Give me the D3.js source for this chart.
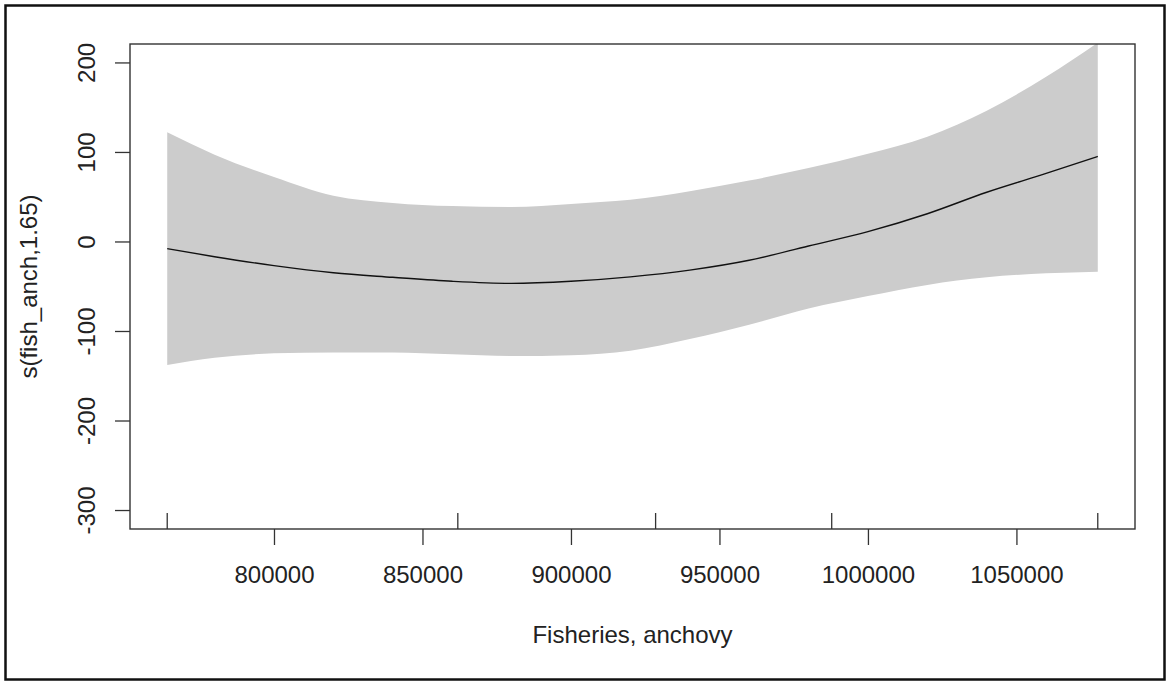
<!DOCTYPE html>
<meta charset="utf-8">
<style>
body { margin: 0; background: #fff; }
text { font-family: "Liberation Sans", Arial, sans-serif; fill: #222; }
</style>
<svg width="1166" height="681"></svg>
<script src="https://cdnjs.cloudflare.com/ajax/libs/d3/7.8.5/d3.min.js"></script>
<script>

// smooth term
var xGrid = [764050, 780000, 800000, 820000, 840000, 860000, 880000, 900000, 920000,
             940000, 960000, 980000, 1000000, 1020000, 1040000, 1060000, 1077390];
var fitValues   = [-8, -17, -27, -35, -40, -44.5, -46.8, -44.5, -39.5,
                   -32, -21, -5, 11, 31, 55, 76, 95];
var upperValues = [122, 97, 72, 51, 43, 39.5, 38.5, 42, 46.5,
                   56, 68, 82, 98, 117, 146, 184, 222];
var lowerValues = [-138, -130, -125, -124, -124, -126, -128, -127, -122,
                   -109, -93, -75, -61, -48.5, -40, -35.5, -33.7];
var rugValues = [764050, 861900, 928500, 987800, 1077390];
var xTicks = [800000, 850000, 900000, 950000, 1000000, 1050000];
var yTicks = [-300, -200, -100, 0, 100, 200];
var xLabel = "Fisheries, anchovy";
var yLabel = "s(fish_anch,1.65)";

var svg = d3.select("svg");
var plotL = 130, plotR = 1135, plotT = 44, plotB = 529;

var x = d3.scaleLinear().domain([751516, 1089926]).range([plotL, plotR]);
var y = d3.scaleLinear().domain([-321.2, 220.6]).range([plotB, plotT]);

var rows = xGrid.map(function(v, i) {
  return {x: v, fit: fitValues[i], lo: lowerValues[i], hi: upperValues[i]};
});

// outer frame
svg.append("rect")
    .attr("x", 5.5).attr("y", 5.5)
    .attr("width", 1159).attr("height", 674)
    .attr("fill", "none")
    .attr("stroke", "#111")
    .attr("stroke-width", 2.5);

svg.append("clipPath").attr("id", "plotclip")
  .append("rect")
    .attr("x", plotL).attr("y", plotT)
    .attr("width", plotR - plotL).attr("height", plotB - plotT);

var plot = svg.append("g").attr("clip-path", "url(#plotclip)");

plot.append("path")
    .datum(rows)
    .attr("fill", "#cccccc")
    .attr("d", d3.area()
      .curve(d3.curveMonotoneX)
      .x(function(d) { return x(d.x); })
      .y0(function(d) { return y(d.lo); })
      .y1(function(d) { return y(d.hi); }));

plot.append("path")
    .datum(rows)
    .attr("fill", "none")
    .attr("stroke", "#111")
    .attr("stroke-width", 1.4)
    .attr("d", d3.line()
      .curve(d3.curveMonotoneX)
      .x(function(d) { return x(d.x); })
      .y(function(d) { return y(d.fit); }));

// rug
svg.append("g").selectAll("line")
  .data(rugValues)
  .enter().append("line")
    .attr("x1", function(d) { return x(d); })
    .attr("x2", function(d) { return x(d); })
    .attr("y1", plotB)
    .attr("y2", plotB - 16)
    .attr("stroke", "#333")
    .attr("stroke-width", 1.3);

// axes (plain hyphen for negatives, like R)
var plainFmt = function(d) { return String(d); };

var xAxis = svg.append("g")
    .attr("transform", "translate(0," + plotB + ")")
    .call(d3.axisBottom(x).tickValues(xTicks).tickSize(16).tickFormat(plainFmt));
xAxis.select(".domain").remove();
xAxis.selectAll("line").attr("stroke", "#333").attr("stroke-width", 1.3);
xAxis.selectAll("text")
    .attr("y", 54).attr("dy", null)
    .style("font-size", "24px")
    .style("fill", "#222");

var yAxis = svg.append("g")
    .attr("transform", "translate(" + plotL + ",0)")
    .call(d3.axisLeft(y).tickValues(yTicks).tickSize(15).tickFormat(plainFmt));
yAxis.select(".domain").remove();
yAxis.selectAll("line").attr("stroke", "#333").attr("stroke-width", 1.3);
yAxis.selectAll("text")
    .attr("x", null).attr("dy", null)
    .attr("transform", "translate(-44,0) rotate(-90)")
    .attr("text-anchor", "middle")
    .attr("dominant-baseline", "central")
    .style("font-size", "24px")
    .style("fill", "#222");

// plot box
svg.append("rect")
    .attr("x", plotL).attr("y", plotT)
    .attr("width", plotR - plotL).attr("height", plotB - plotT)
    .attr("fill", "none")
    .attr("stroke", "#333")
    .attr("stroke-width", 1.4);

svg.append("text")
    .attr("x", (plotL + plotR) / 2)
    .attr("y", 643)
    .attr("text-anchor", "middle")
    .style("font-size", "24px")
    .text(xLabel);

svg.append("text")
    .attr("transform", "translate(37," + (plotT + plotB) / 2 + ") rotate(-90)")
    .attr("text-anchor", "middle")
    .style("font-size", "24px")
    .text(yLabel);

</script>
